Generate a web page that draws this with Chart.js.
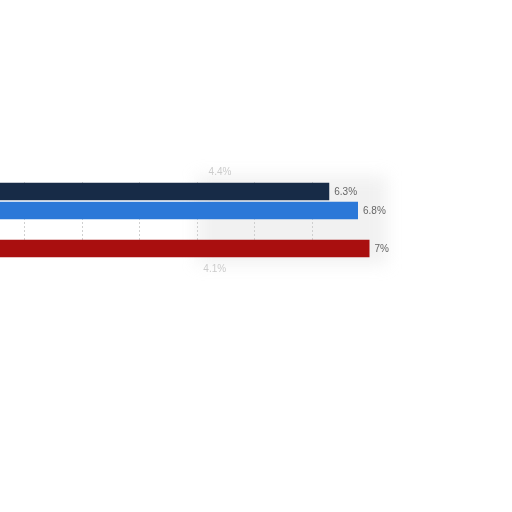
<!DOCTYPE html>
<html>
<head>
<meta charset="utf-8">
<script src="https://cdn.jsdelivr.net/npm/chart.js@4"></script>
<style>
  html, body { margin: 0; padding: 0; background: #ffffff; overflow: hidden; }
  #wrap { position: absolute; left: -33px; top: 0; width: 545px; height: 512px; }
</style>
</head>
<body>
<div id="wrap"><canvas id="c" width="545" height="512"></canvas></div>
<script>
const categories = ['A', 'B', 'C', 'D'];
const values = [6.3, 6.8, null, 7];
const barColors = ['#172b47', '#2b78d8', '#ffffff', '#a90f0f'];
const valueLabels = ['6.3%', '6.8%', '', '7%'];
const ghostValues = [4.4, 4.1];
const ghostLabels = ['4.4%', '4.1%'];
const xTicks = [0, 1, 2, 3, 4, 5, 6, 7, 8];

const haloPlugin = {
  id: 'halo',
  beforeDatasetsDraw(chart) {
    const ctx = chart.ctx;
    const xs = chart.scales.x;
    const area = chart.chartArea;
    ctx.save();
    ctx.filter = 'blur(8px)';
    ctx.fillStyle = 'rgba(205,205,205,0.28)';
    const x0 = xs.getPixelForValue(4.0);
    const x1 = xs.getPixelForValue(7.3);
    ctx.fillRect(x0, area.top - 6, x1 - x0, area.bottom - area.top + 12);
    ctx.restore();
  }
};

const labelPlugin = {
  id: 'valueLabels',
  afterDatasetsDraw(chart) {
    const ctx = chart.ctx;
    const meta = chart.getDatasetMeta(0);
    ctx.save();
    ctx.font = '10px "Liberation Sans", Arial, sans-serif';
    ctx.fillStyle = '#666666';
    ctx.textBaseline = 'middle';
    ctx.textAlign = 'left';
    meta.data.forEach((bar, i) => {
      if (!valueLabels[i]) return;
      ctx.fillText(valueLabels[i], bar.x + 5, bar.y + 1);
    });
    const xs = chart.scales.x;
    const area = chart.chartArea;
    ctx.fillStyle = '#cccccc';
    ctx.textAlign = 'center';
    ctx.fillText(ghostLabels[0], xs.getPixelForValue(ghostValues[0]), area.top - 10);
    ctx.fillText(ghostLabels[1], xs.getPixelForValue(ghostValues[1]) + 12, area.bottom + 11);
    ctx.restore();
  }
};

new Chart(document.getElementById('c'), {
  type: 'bar',
  data: {
    labels: categories,
    datasets: [{
      data: values,
      backgroundColor: barColors,
      borderWidth: 0,
      barPercentage: 0.92,
      categoryPercentage: 1.0
    }]
  },
  plugins: [haloPlugin, labelPlugin],
  options: {
    indexAxis: 'y',
    responsive: false,
    animation: false,
    layout: { padding: { left: 0, right: 85, top: 182, bottom: 254 } },
    plugins: { legend: { display: false }, tooltip: { enabled: false } },
    scales: {
      x: {
        min: xTicks[0],
        max: xTicks[xTicks.length - 1],
        display: true,
        afterBuildTicks(scale) { scale.ticks = xTicks.map(v => ({ value: v })); },
        ticks: { display: false },
        grid: {
          drawTicks: false,
          color: (c) => (c.tick && c.tick.value > 0 && c.tick.value < 7) ? '#d0d0d0' : 'rgba(0,0,0,0)',
          lineWidth: 1
        },
        border: { display: false, dash: [2, 2] }
      },
      y: {
        display: false
      }
    }
  }
});
</script>
</body>
</html>
